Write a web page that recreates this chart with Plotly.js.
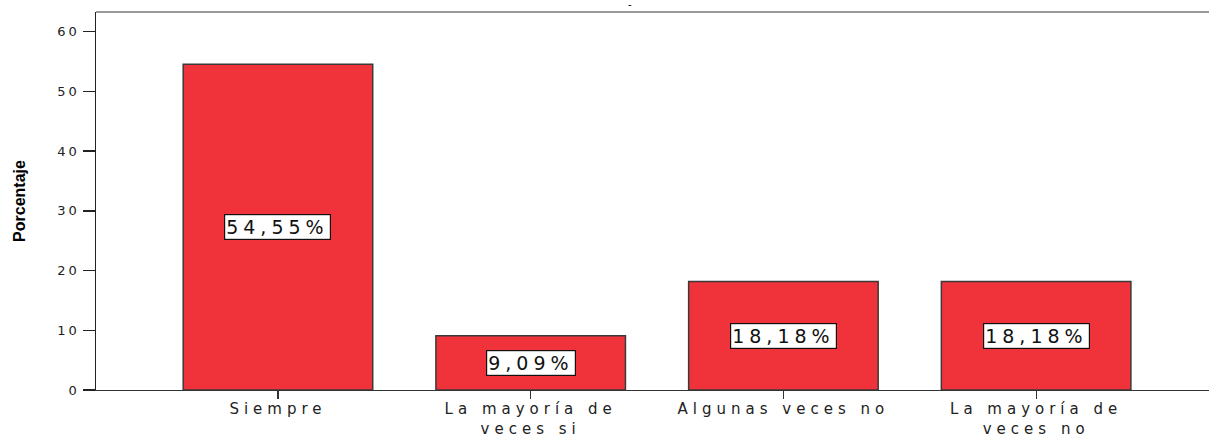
<!DOCTYPE html>
<html>
<head>
<meta charset="utf-8">
<script src="https://cdn.plot.ly/plotly-3.0.1.min.js"></script>
<style>
  html, body { margin: 0; padding: 0; background: #fff; }
  #chart { width: 1209px; height: 437px; }
  .xtick text { letter-spacing: 5px; }
  .ytick text { letter-spacing: 3px; }
  .annotation-text { letter-spacing: 5px; }
</style>
</head>
<body>
<div id="chart"></div>
<script>
const categories = ["Siempre", "La mayoría de<br>veces si", "Algunas veces no", "La mayoría de<br>veces no"];
const percentages = [54.55, 9.09, 18.18, 18.18];
const labels = ["54,55%", "9,09%", "18,18%", "18,18%"];
const yTicks = [0, 10, 20, 30, 40, 50, 60];

const trace = {
  type: "bar",
  x: categories,
  y: percentages,
  width: 0.75,
  marker: { color: "#F0333B", line: { color: "#3a3a3a", width: 1.5 } },
  hoverinfo: "none"
};

const annotations = categories.map((c, i) => ({
  x: c, y: percentages[i] / 2, xref: "x", yref: "y",
  text: labels[i], showarrow: false,
  font: { family: "DejaVu Sans, Liberation Sans, sans-serif", size: 19, color: "#111" },
  bgcolor: "#ffffff", bordercolor: "#111", borderwidth: 1.2, borderpad: 1
}));
annotations.push({
  x: 0.4816, y: 1, xref: "paper", yref: "paper", yanchor: "bottom",
  text: "-", showarrow: false, font: { family: "DejaVu Sans", size: 10, color: "#000" }
});

const layout = {
  width: 1209, height: 437,
  margin: { l: 96, r: 0, t: 12, b: 47 },
  paper_bgcolor: "#fff", plot_bgcolor: "#fff",
  showlegend: false,
  bargap: 0.25,
  xaxis: {
    type: "category",
    range: [-0.72, 3.684],
    showline: true, linecolor: "#333", linewidth: 1.2,
    ticks: "outside", ticklen: 8, tickwidth: 1.2, tickcolor: "#333",
    ticklabelstandoff: -3,
    showgrid: false, zeroline: false,
    tickfont: { family: "DejaVu Sans, Liberation Sans, sans-serif", size: 15, color: "#222" }
  },
  yaxis: {
    range: [0, 63.3],
    tickvals: yTicks,
    showline: true, linecolor: "#222", linewidth: 1.5,
    ticks: "outside", ticklen: 12, tickwidth: 1.5, tickcolor: "#222",
    showgrid: false, zeroline: false,
    tickfont: { family: "DejaVu Sans, Liberation Sans, sans-serif", size: 13, color: "#222" },
    title: { text: "<b>Porcentaje</b>", standoff: 28,
      font: { family: "Liberation Sans Narrow, Liberation Sans, sans-serif", size: 16, color: "#000" } }
  },
  annotations: annotations,
  shapes: [{
    type: "line", xref: "paper", yref: "paper", x0: 0, x1: 1, y0: 1, y1: 1,
    line: { color: "#999", width: 2 }
  }]
};

Plotly.newPlot("chart", [trace], layout, { displayModeBar: false, staticPlot: true });
</script>
</body>
</html>
